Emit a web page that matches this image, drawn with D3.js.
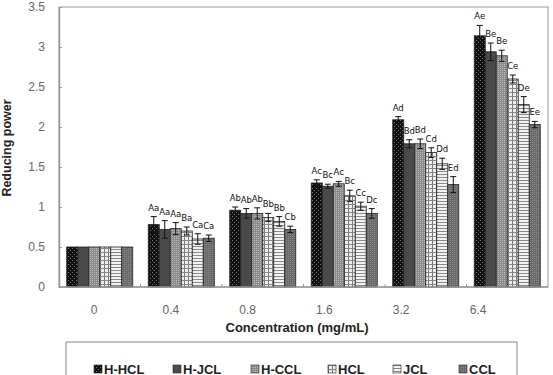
<!DOCTYPE html>
<html>
<head>
<meta charset="utf-8">
<script src="https://cdn.jsdelivr.net/npm/d3@7"></script>
<style>
body { margin: 0; background: #fff; }
svg { display: block; font-family: "Liberation Sans", Arial, sans-serif; }
</style>
</head>
<body>
<svg id="chart" width="553" height="375"></svg>
<script>
// data
var concentrations = ["0", "0.4", "0.8", "1.6", "3.2", "6.4"];
var samples = ["H-HCL", "H-JCL", "H-CCL", "HCL", "JCL", "CCL"];

var hhcl = [0.50, 0.78, 0.96, 1.30, 2.09, 3.14];
var hjcl = [0.50, 0.72, 0.92, 1.26, 1.79, 2.94];
var hccl = [0.50, 0.73, 0.92, 1.29, 1.79, 2.89];
var hcl  = [0.50, 0.70, 0.87, 1.14, 1.68, 2.60];
var jcl  = [0.50, 0.60, 0.82, 1.01, 1.54, 2.28];
var ccl  = [0.50, 0.61, 0.72, 0.92, 1.28, 2.03];

var hhclErr = [0, 0.10, 0.04, 0.04, 0.04, 0.13];
var hjclErr = [0, 0.11, 0.06, 0.025, 0.05, 0.11];
var hcclErr = [0, 0.075, 0.07, 0.03, 0.06, 0.07];
var hclErr  = [0, 0.05, 0.05, 0.07, 0.06, 0.05];
var jclErr  = [0, 0.066, 0.06, 0.05, 0.07, 0.10];
var cclErr  = [0, 0.04, 0.04, 0.06, 0.10, 0.04];

var hhclLbl = ["", "Aa", "Ab", "Ac", "Ad", "Ae"];
var hjclLbl = ["", "Aa", "Ab", "Bc", "Bd", "Be"];
var hcclLbl = ["", "Aa", "Ab", "Ac", "Bd", "Be"];
var hclLbl  = ["", "Ba", "Bb", "Bc", "Cd", "Ce"];
var jclLbl  = ["", "Ca", "Bb", "Cc", "Dd", "De"];
var cclLbl  = ["", "Ca", "Cb", "Dc", "Ed", "Ee"];

var yTicks = [0, 0.5, 1, 1.5, 2, 2.5, 3, 3.5];

var values = [hhcl, hjcl, hccl, hcl, jcl, ccl];
var errors = [hhclErr, hjclErr, hcclErr, hclErr, jclErr, cclErr];
var letters = [hhclLbl, hjclLbl, hcclLbl, hclLbl, jclLbl, cclLbl];

var svg = d3.select("#chart");
var pl = 59, pr = 548, pt = 7, pb = 287;

// patterns
var defs = svg.append("defs");
var addPattern = function(id, w, h, bg, draw) {
    var p = defs.append("pattern").attr("id", id)
        .attr("patternUnits", "userSpaceOnUse")
        .attr("width", w).attr("height", h);
    p.append("rect").attr("width", w).attr("height", h).attr("fill", bg);
    draw(p);
};
addPattern("p0", 4, 4, "#111", function(p) {
    p.append("rect").attr("x", 0).attr("y", 0).attr("width", 1).attr("height", 1).attr("fill", "#777");
    p.append("rect").attr("x", 2).attr("y", 2).attr("width", 1).attr("height", 1).attr("fill", "#777");
});
addPattern("p1", 4, 4, "#4a4a4a", function(p) {});
addPattern("p2", 2, 2, "#8a8a8a", function(p) {
    p.append("rect").attr("x", 0).attr("y", 0).attr("width", 1).attr("height", 1).attr("fill", "#bdbdbd");
});
addPattern("p3", 4, 4, "#eee", function(p) {
    p.append("rect").attr("x", 0).attr("y", 0).attr("width", 1).attr("height", 4).attr("fill", "#777");
    p.append("rect").attr("x", 0).attr("y", 0).attr("width", 4).attr("height", 1).attr("fill", "#888");
});
addPattern("p4", 4, 3, "#f2f2f2", function(p) {
    p.append("rect").attr("x", 0).attr("y", 0).attr("width", 4).attr("height", 1).attr("fill", "#8a8a8a");
});
addPattern("p5", 2, 2, "#6a6a6a", function(p) {
    p.append("rect").attr("x", 0).attr("y", 0).attr("width", 1).attr("height", 1).attr("fill", "#888");
});

// scales
var x0 = d3.scaleBand().domain(concentrations).range([pl, pr])
    .paddingInner(0.19).paddingOuter(0.095);
var x1 = d3.scaleBand().domain(samples).range([0, x0.bandwidth()]);
var xLabel = d3.scalePoint().domain(concentrations).range([94, 478]);
var y = d3.scaleLinear().domain([0, 3.5]).range([pb, pt]);

// frame
svg.append("rect").attr("x", pl).attr("y", pt)
    .attr("width", pr - pl).attr("height", pb - pt)
    .attr("fill", "none").attr("stroke", "#999").attr("stroke-width", 1);

// y axis
var yAxis = svg.append("g").attr("transform", "translate(" + pl + ",0)")
    .call(d3.axisLeft(y).tickValues(yTicks).tickSizeInner(-3).tickSizeOuter(0).tickPadding(14)
        .tickFormat(function(d) { return d; }));
yAxis.select(".domain").attr("stroke", "#999").attr("stroke-width", 1.5);
yAxis.selectAll(".tick line").attr("stroke", "#999");
yAxis.selectAll("text").attr("fill", "#666").attr("font-size", 12);

// bars
samples.forEach(function(s, i) {
    var g = svg.append("g");
    var rows = concentrations.map(function(c, j) {
        return { c: c, v: values[i][j], e: errors[i][j], l: letters[i][j] };
    });
    g.selectAll("rect").data(rows).enter().append("rect")
        .attr("x", function(d) { return x0(d.c) + x1(s); })
        .attr("y", function(d) { return y(d.v); })
        .attr("width", x1.bandwidth())
        .attr("height", function(d) { return y(0) - y(d.v); })
        .attr("fill", "url(#p" + i + ")")
        .attr("stroke", "#222").attr("stroke-width", 0.8);

    var eb = g.selectAll(".err").data(rows.filter(function(d) { return d.e > 0; })).enter()
        .append("g").attr("class", "err")
        .attr("transform", function(d) { return "translate(" + (x0(d.c) + x1(s) + x1.bandwidth() / 2) + ",0)"; });
    eb.append("line").attr("y1", function(d) { return y(d.v + d.e); })
        .attr("y2", function(d) { return y(d.v - d.e); })
        .attr("stroke", "#111").attr("stroke-width", 1);
    eb.append("line").attr("x1", -3).attr("x2", 3)
        .attr("y1", function(d) { return y(d.v + d.e); }).attr("y2", function(d) { return y(d.v + d.e); })
        .attr("stroke", "#111").attr("stroke-width", 1);
    eb.append("line").attr("x1", -3).attr("x2", 3)
        .attr("y1", function(d) { return y(d.v - d.e); }).attr("y2", function(d) { return y(d.v - d.e); })
        .attr("stroke", "#111").attr("stroke-width", 1);

    g.selectAll(".lbl").data(rows.filter(function(d) { return d.l; })).enter()
        .append("text").attr("class", "lbl")
        .attr("x", function(d) { return x0(d.c) + x1(s) + x1.bandwidth() / 2; })
        .attr("y", function(d) { return y(d.v + d.e) - 6; })
        .attr("text-anchor", "middle")
        .attr("font-size", 8.5).attr("font-family", "'DejaVu Sans', sans-serif")
        .attr("fill", "#111")
        .text(function(d) { return d.l; });
});

// x axis
svg.append("line").attr("x1", pl).attr("x2", pr)
    .attr("y1", pb).attr("y2", pb)
    .attr("stroke", "#999").attr("stroke-width", 1.5);
svg.selectAll(".xtick").data(concentrations.slice(1)).enter()
    .append("line").attr("class", "xtick")
    .attr("x1", function(d) { return x0(d) - x0.step() * x0.paddingInner() / 2; })
    .attr("x2", function(d) { return x0(d) - x0.step() * x0.paddingInner() / 2; })
    .attr("y1", pb).attr("y2", pb - 3)
    .attr("stroke", "#999");
svg.selectAll(".xlbl").data(concentrations).enter()
    .append("text").attr("class", "xlbl")
    .attr("x", function(d) { return xLabel(d); })
    .attr("y", 314)
    .attr("text-anchor", "middle")
    .attr("font-size", 12).attr("fill", "#666")
    .text(function(d) { return d; });

// titles
svg.append("text").attr("x", 297).attr("y", 332)
    .attr("text-anchor", "middle").attr("font-size", 13).attr("font-weight", "bold")
    .attr("fill", "#222").text("Concentration (mg/mL)");
svg.append("text").attr("transform", "translate(11,148) rotate(-90)")
    .attr("text-anchor", "middle").attr("font-size", 12.5).attr("font-weight", "bold")
    .attr("fill", "#222").text("Reducing power");

// legend
svg.append("rect").attr("x", 66).attr("y", 342).attr("width", 451).attr("height", 40)
    .attr("fill", "none").attr("stroke", "#888").attr("stroke-width", 1);
var legX = [94, 173, 251, 328, 393, 459];
var leg = svg.selectAll(".leg").data(samples).enter().append("g")
    .attr("transform", function(d, i) { return "translate(" + legX[i] + ",365)"; });
leg.append("rect").attr("x", 0).attr("y", 0).attr("width", 8).attr("height", 8)
    .attr("fill", function(d, i) { return "url(#p" + i + ")"; })
    .attr("stroke", "#222").attr("stroke-width", 0.6);
leg.append("text").attr("x", 10).attr("y", 8.5)
    .attr("font-size", 13).attr("font-weight", "bold").attr("fill", "#222")
    .text(function(d) { return d; });
</script>
</body>
</html>
